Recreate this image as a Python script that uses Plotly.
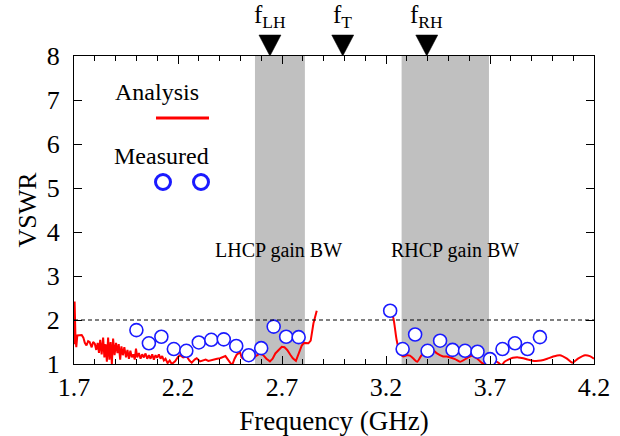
import plotly.graph_objects as go

# ---------------- data ----------------
f_ana_low = [1.700, 1.703, 1.707, 1.711, 1.716, 1.725, 1.737, 1.745, 1.752, 1.760,
             1.768, 1.775, 1.785, 1.792, 1.800, 1.807, 1.814, 1.820, 1.826, 1.833,
             1.840, 1.846, 1.852, 1.858, 1.864, 1.870, 1.876, 1.882, 1.888, 1.895,
             1.902, 1.909, 1.915, 1.922, 1.928, 1.935, 1.942, 1.950, 1.957, 1.964,
             1.971, 1.978, 1.985, 1.992, 1.998, 2.004, 2.012, 2.020, 2.028, 2.036,
             2.044, 2.052, 2.060, 2.068, 2.076, 2.084, 2.092, 2.100, 2.108, 2.116,
             2.124, 2.132, 2.140, 2.150, 2.160, 2.170, 2.186, 2.200, 2.210, 2.225,
             2.242, 2.255, 2.266, 2.280, 2.290, 2.306, 2.320, 2.333, 2.346, 2.360,
             2.372, 2.388, 2.402, 2.415, 2.428, 2.442, 2.460, 2.472, 2.482, 2.498,
             2.506, 2.514, 2.525, 2.538, 2.553, 2.570, 2.585, 2.595, 2.610, 2.625,
             2.642, 2.655, 2.668, 2.685, 2.699, 2.712, 2.725, 2.740, 2.752, 2.767,
             2.780, 2.795, 2.805, 2.818, 2.827, 2.838, 2.851, 2.867]
vswr_ana_low = [1.45, 2.42, 1.60, 1.38, 1.65, 1.66, 1.66, 1.60, 1.48, 1.42,
                1.52, 1.50, 1.38, 1.50, 1.46, 1.32, 1.48, 1.25, 1.55, 1.22,
                1.60, 1.15, 1.45, 1.05, 1.60, 1.10, 1.50, 1.00, 1.58, 1.20,
                1.48, 1.25, 1.45, 1.10, 1.40, 1.20, 1.38, 1.15, 1.32, 1.12,
                1.30, 1.15, 1.22, 1.10, 1.35, 1.15, 1.25, 1.12, 1.22, 1.15,
                1.24, 1.12, 1.20, 1.12, 1.22, 1.10, 1.20, 1.14, 1.22, 1.12,
                1.18, 1.08, 1.12, 1.02, 1.08, 1.00, 1.06, 1.16, 1.20, 1.15,
                1.17, 1.08, 1.03, 1.10, 1.13, 1.06, 1.09, 1.10, 1.07, 1.09,
                1.10, 1.12, 1.13, 1.16, 1.18, 1.09, 0.97, 1.12, 1.21, 1.27,
                1.15, 1.12, 1.11, 1.12, 1.09, 1.17, 1.22, 1.24, 1.20, 1.12,
                1.06, 1.12, 1.24, 1.33, 1.39, 1.38, 1.32, 1.21, 1.13, 1.07,
                1.22, 1.42, 1.48, 1.48, 1.47, 1.53, 1.92, 2.21]

f_ana_high = [3.225, 3.235, 3.251, 3.267, 3.283, 3.300, 3.315, 3.330, 3.350, 3.371,
              3.395, 3.420, 3.445, 3.475, 3.492, 3.532, 3.556, 3.588, 3.612, 3.636,
              3.660, 3.684, 3.700, 3.724, 3.740, 3.756, 3.770, 3.788, 3.810, 3.836,
              3.860, 3.884, 3.916, 3.945, 3.975, 4.004, 4.036, 4.068, 4.096, 4.125,
              4.157, 4.180, 4.200]
vswr_ana_high = [2.15, 2.05, 1.55, 1.24, 1.17, 1.20, 1.19, 1.13, 1.05, 1.20,
                 1.28, 1.34, 1.24, 1.17, 1.17, 1.11, 1.05, 1.13, 1.19, 1.13,
                 1.03, 0.96, 1.02, 1.07, 1.03, 0.98, 1.05, 1.10, 1.14, 1.15,
                 1.13, 1.10, 1.07, 1.08, 1.12, 1.17, 1.20, 1.13, 1.03, 1.13,
                 1.20, 1.18, 1.12]

f_meas = [2.00, 2.06, 2.12, 2.18, 2.24, 2.30, 2.36, 2.42, 2.48, 2.54, 2.60, 2.66, 2.72, 2.78,
          3.22, 3.28, 3.34, 3.40, 3.46, 3.52, 3.58, 3.64, 3.70, 3.76, 3.82, 3.88, 3.94]
vswr_meas = [1.77, 1.47, 1.62, 1.34, 1.30, 1.49, 1.55, 1.56, 1.41, 1.20, 1.36, 1.85, 1.62, 1.61,
             2.21, 1.34, 1.67, 1.30, 1.53, 1.32, 1.30, 1.28, 1.11, 1.34, 1.47, 1.34, 1.61]

band_names = ["LHCP gain BW", "RHCP gain BW"]
band_lo = [2.57, 3.275]
band_hi = [2.81, 3.695]

marker_labels = ["f<sub>LH</sub>", "f<sub>T</sub>", "f<sub>RH</sub>"]
marker_freqs = [2.642, 2.992, 3.396]

x_tickvals = [1.7, 2.2, 2.7, 3.2, 3.7, 4.2]
x_ticktext = ["1.7", "2.2", "2.7", "3.2", "3.7", "4.2"]
y_tickvals = [1, 2, 3, 4, 5, 6, 7, 8]
vswr_limit = 2

# ---------------- layout helpers ----------------
W, H = 620, 436
ML, MR, MT, MB = 74, 26, 56, 72
PW, PH = W - ML - MR, H - MT - MB
FONT = "Liberation Serif"


def px_x(x):
    return (x - ML) / PW


def px_y(y):
    return (H - MB - y) / PH


fig = go.Figure()

fig.add_trace(go.Scatter(x=f_ana_low, y=vswr_ana_low, mode="lines",
                         line=dict(color="#ff0000", width=2), showlegend=False))
fig.add_trace(go.Scatter(x=f_ana_high, y=vswr_ana_high, mode="lines",
                         line=dict(color="#ff0000", width=2, shape="spline", smoothing=0.6),
                         showlegend=False))
fig.add_trace(go.Scatter(x=f_meas, y=vswr_meas, mode="markers",
                         marker=dict(symbol="circle", size=13, color="white",
                                     line=dict(color="#1a1aff", width=1.6)),
                         showlegend=False))

shapes = []
for lo, hi in zip(band_lo, band_hi):
    shapes.append(dict(type="rect", xref="x", yref="paper", x0=lo, x1=hi, y0=0, y1=1,
                       fillcolor="#c0c0c0", line=dict(width=0), layer="below"))
shapes.append(dict(type="line", xref="paper", yref="y", x0=0, x1=1, y0=vswr_limit, y1=vswr_limit,
                   line=dict(color="black", width=1, dash="4px,3px")))

half_w = 11 / PW * (4.2 - 1.7)
tri_top = px_y(MT - 21)
for f in marker_freqs:
    shapes.append(dict(type="path", xref="x", yref="paper",
                       path=f"M {f - half_w},{tri_top} L {f + half_w},{tri_top} L {f},1 Z",
                       fillcolor="black", line=dict(color="black", width=0.5)))

# legend keys
shapes.append(dict(type="line", xref="paper", yref="paper",
                   x0=px_x(156), x1=px_x(209), y0=px_y(118), y1=px_y(118),
                   line=dict(color="#ff0000", width=3)))
for cx in (163, 201):
    shapes.append(dict(type="circle", xref="paper", yref="paper",
                       x0=px_x(cx - 7.5), x1=px_x(cx + 7.5), y0=px_y(182 + 7.5), y1=px_y(182 - 7.5),
                       fillcolor="white", line=dict(color="#1a1aff", width=3)))

annotations = []
for lab, f in zip(marker_labels, marker_freqs):
    annotations.append(dict(text=lab, x=f, xref="x", y=px_y(MT - 22), yref="paper",
                            yanchor="bottom", xanchor="center", showarrow=False,
                            font=dict(family=FONT, size=25, color="black")))


def label(text, x, y, size):
    annotations.append(dict(text=text, x=px_x(x), y=px_y(y), xref="paper", yref="paper",
                            xanchor="center", yanchor="middle", showarrow=False,
                            font=dict(family=FONT, size=size, color="black")))


label(band_names[0], 278.5, 250, 20)
label(band_names[1], 454.5, 250, 20)
label("Analysis", 157, 92, 24)
label("Measured", 161.5, 156, 24)

fig.update_layout(
    width=W, height=H,
    margin=dict(l=ML, r=MR, t=MT, b=MB, pad=0, autoexpand=False),
    paper_bgcolor="white", plot_bgcolor="white",
    font=dict(family=FONT, size=26, color="black"),
    shapes=shapes, annotations=annotations, showlegend=False,
)
fig.update_xaxes(range=[1.7, 4.2], tickvals=x_tickvals, ticktext=x_ticktext,
                 ticks="inside", ticklen=8, tickwidth=1, tickcolor="black",
                 minor=dict(tick0=1.7, dtick=0.1, ticks="inside", ticklen=5, tickcolor="black", showgrid=False),
                 showline=True, linecolor="black", linewidth=1, mirror="ticks",
                 showgrid=False, zeroline=False, automargin=False,
                 tickfont=dict(family=FONT, size=26),
                 title=dict(text="Frequency (GHz)", font=dict(family=FONT, size=27), standoff=13))
fig.update_yaxes(range=[1, 8], tickvals=y_tickvals,
                 ticks="inside", ticklen=8, tickwidth=1, tickcolor="black",
                 showline=True, linecolor="black", linewidth=1, mirror="ticks",
                 showgrid=False, zeroline=False, ticklabelstandoff=8, automargin=False,
                 tickfont=dict(family=FONT, size=26),
                 title=dict(text="VSWR", font=dict(family=FONT, size=26), standoff=2))

fig.write_html("out.html")
